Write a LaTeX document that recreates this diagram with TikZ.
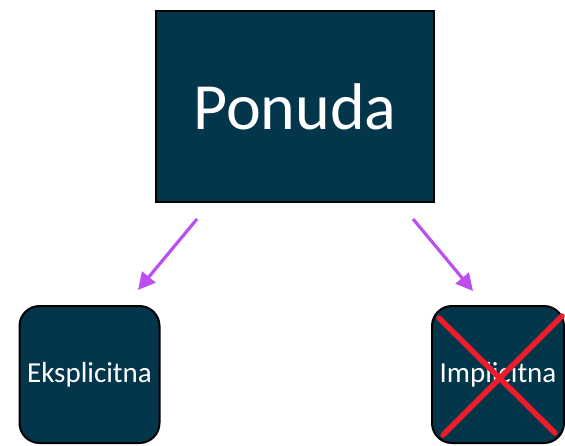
\documentclass[tikz,border=0pt]{standalone}
\usepackage{fontspec}
\setmainfont{Carlito}
\usetikzlibrary{arrows.meta}
\definecolor{navy}{HTML}{03364B}
\definecolor{arrowpurple}{HTML}{BB4FF0}
\definecolor{crossred}{HTML}{EC1C2A}
\tikzset{
  mainbox/.style={draw=black, line width=2pt, fill=navy, text=white, minimum width=278pt, minimum height=191pt, inner sep=0pt, font=\fontsize{66}{72}\selectfont},
  subbox/.style={draw=black, line width=2pt, fill=navy, text=white, rounded corners=20pt, minimum width=140pt, minimum height=137pt, inner sep=0pt, font=\fontsize{29}{32}\selectfont},
  link/.style={draw=arrowpurple, line width=3.2pt, -{Triangle[length=17pt,width=17pt]}},
  cross/.style={draw=crossred, line width=5.5pt, line cap=round}
}
\begin{document}
\begin{tikzpicture}[x=1pt,y=-1pt]
\useasboundingbox (0,0) rectangle (565,445);
\node[mainbox] (ponuda) at (295,106.5) {Ponuda};
\node[subbox] (eks) at (89.5,374.5) {Eksplicitna};
\node[subbox, minimum width=132pt] (imp) at (498,374.5) {Implicitna};
\coordinate (s1) at (197,219);
\coordinate (t1) at (138,290);
\coordinate (s2) at (413,219);
\coordinate (t2) at (473,291);
\draw[link] (s1) -- (t1);
\draw[link] (s2) -- (t2);
\coordinate (c1) at (439,318);
\coordinate (c2) at (555,433);
\coordinate (c3) at (562,316);
\coordinate (c4) at (443,435);
\draw[cross] (c1) -- (c2);
\draw[cross] (c3) -- (c4);
\end{tikzpicture}
\end{document}
